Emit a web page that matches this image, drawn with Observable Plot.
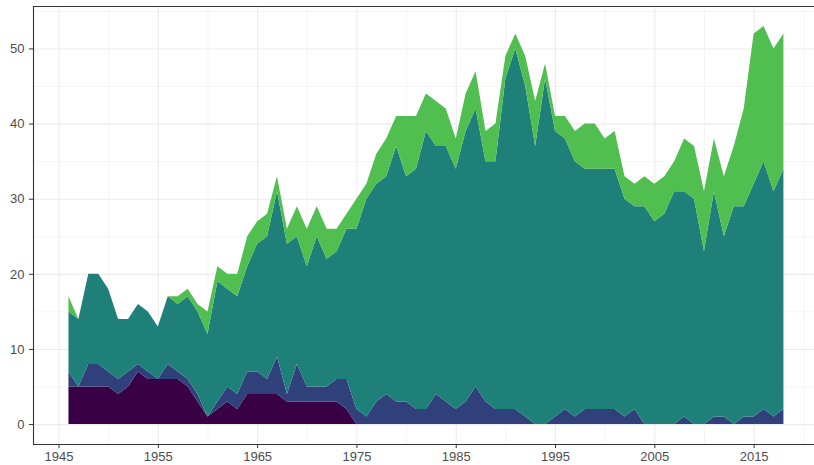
<!DOCTYPE html>
<html>
<head>
<meta charset="utf-8">
<script src="https://cdn.jsdelivr.net/npm/d3@7"></script>
<script src="https://cdn.jsdelivr.net/npm/@observablehq/plot@0.6"></script>
<style>
  html, body { margin: 0; padding: 0; background: #fff; }
  #chart { width: 814px; height: 465px; }
</style>
</head>
<body>
<div id="chart"></div>
<script>
// ---- data ----
const years = d3.range(1946, 2019);
const types = ["Extrasystemic", "Interstate", "Intrastate", "Internationalized intrastate"];
const colors = ["#390045", "#2f407a", "#1f807a", "#50bf50"];

const extrasystemic = [5,5,5,5,5,4,5,7,6,6, 6,6,5,3,1,2,3,2,4,4, 4,4,3,3,3,3,3,3,2,0,
  0,0,0,0,0,0,0,0,0,0, 0,0,0,0,0,0,0,0,0,0, 0,0,0,0,0,0,0,0,0,0, 0,0,0,0,0,0,0,0,0,0, 0,0,0];
const interstate = [2,0,3,3,2,2,2,1,1,0, 2,1,1,1,0,1,2,2,3,3, 2,5,1,5,2,2,2,3,4,2,
  1,3,4,3,3,2,2,4,3,2, 3,5,3,2,2,2,1,0,0,1, 2,1,2,2,2,2,1,2,0,0, 0,0,1,0,0,1,1,0,1,1, 2,1,2];
const intrastate = [8,9,12,12,11,8,7,8,8,7, 9,9,11,11,11,16,13,13,14,17, 19,22,20,17,16,20,17,17,20,24,
  29,29,29,34,30,32,37,33,34,32, 36,37,32,33,44,48,44,37,46,38, 36,34,32,32,32,32,29,27,29,27, 28,31,30,30,23,30,24,29,28,31, 33,30,32];
const internationalized = [2,0,0,0,0,0,0,0,0,0, 0,1,1,1,3,2,2,3,4,3, 3,2,2,4,5,4,4,3,2,4,
  2,4,5,4,8,7,5,6,5,4, 5,5,4,5,3,2,4,6,2,2, 3,4,6,6,4,5,3,3,4,5, 5,4,7,7,8,7,8,8,13,20, 18,19,18];

const xMajor = [1945, 1955, 1965, 1975, 1985, 1995, 2005, 2015];
const xMinor = [1950, 1960, 1970, 1980, 1990, 2000, 2010, 2020];
const yMajor = [0, 10, 20, 30, 40, 50];
const yMinor = [5, 15, 25, 35, 45, 55];

// long table for the library
const series = [extrasystemic, interstate, intrastate, internationalized];
const table = [];
types.forEach((t, i) => years.forEach((yr, j) => table.push({year: yr, type: t, count: series[i][j]})));

const xDomain = [1942.43, 2021.08];
const yDomain = [-2.65, 55.65];

const chart = Plot.plot({
  width: 814,
  height: 465,
  marginLeft: 33,
  marginRight: 0,
  marginTop: 6,
  marginBottom: 21,
  style: {fontFamily: "'Liberation Sans', Arial, sans-serif", fontSize: "13px", background: "#fff"},
  x: {domain: xDomain},
  y: {domain: yDomain},
  color: {domain: types, range: colors},
  marks: [
    Plot.ruleX(xMinor, {stroke: "#ebebeb", strokeWidth: 0.55}),
    Plot.ruleY(yMinor, {stroke: "#ebebeb", strokeWidth: 0.55}),
    Plot.ruleX(xMajor, {stroke: "#ebebeb", strokeWidth: 1.1}),
    Plot.ruleY(yMajor, {stroke: "#ebebeb", strokeWidth: 1.1}),
    Plot.areaY(table, {x: "year", y: "count", fill: "type", z: "type"}),
    Plot.ruleX([xDomain[0]], {stroke: "#333", strokeWidth: 1.1}),
    Plot.ruleY([yDomain[0], yDomain[1]], {stroke: "#333", strokeWidth: 1.1}),
    Plot.axisX({ticks: xMajor, tickFormat: d => String(d), tickSize: 4, tickPadding: 3, fontSize: 13, label: null, stroke: "#333", fill: "#4d4d4d"}),
    Plot.axisY({ticks: yMajor, tickSize: 4, tickPadding: 5, fontSize: 13, label: null, stroke: "#333", fill: "#4d4d4d"})
  ]
});
d3.select(chart).selectAll("g[aria-label$='tick label']")
  .attr("font-size", 13).style("font-size", "13px")
  .attr("font-family", "'Liberation Sans', Arial, sans-serif");
d3.select(chart).selectAll("text")
  .attr("font-size", 13).style("font-size", "13px");
document.getElementById("chart").appendChild(chart);
</script>
</body>
</html>
